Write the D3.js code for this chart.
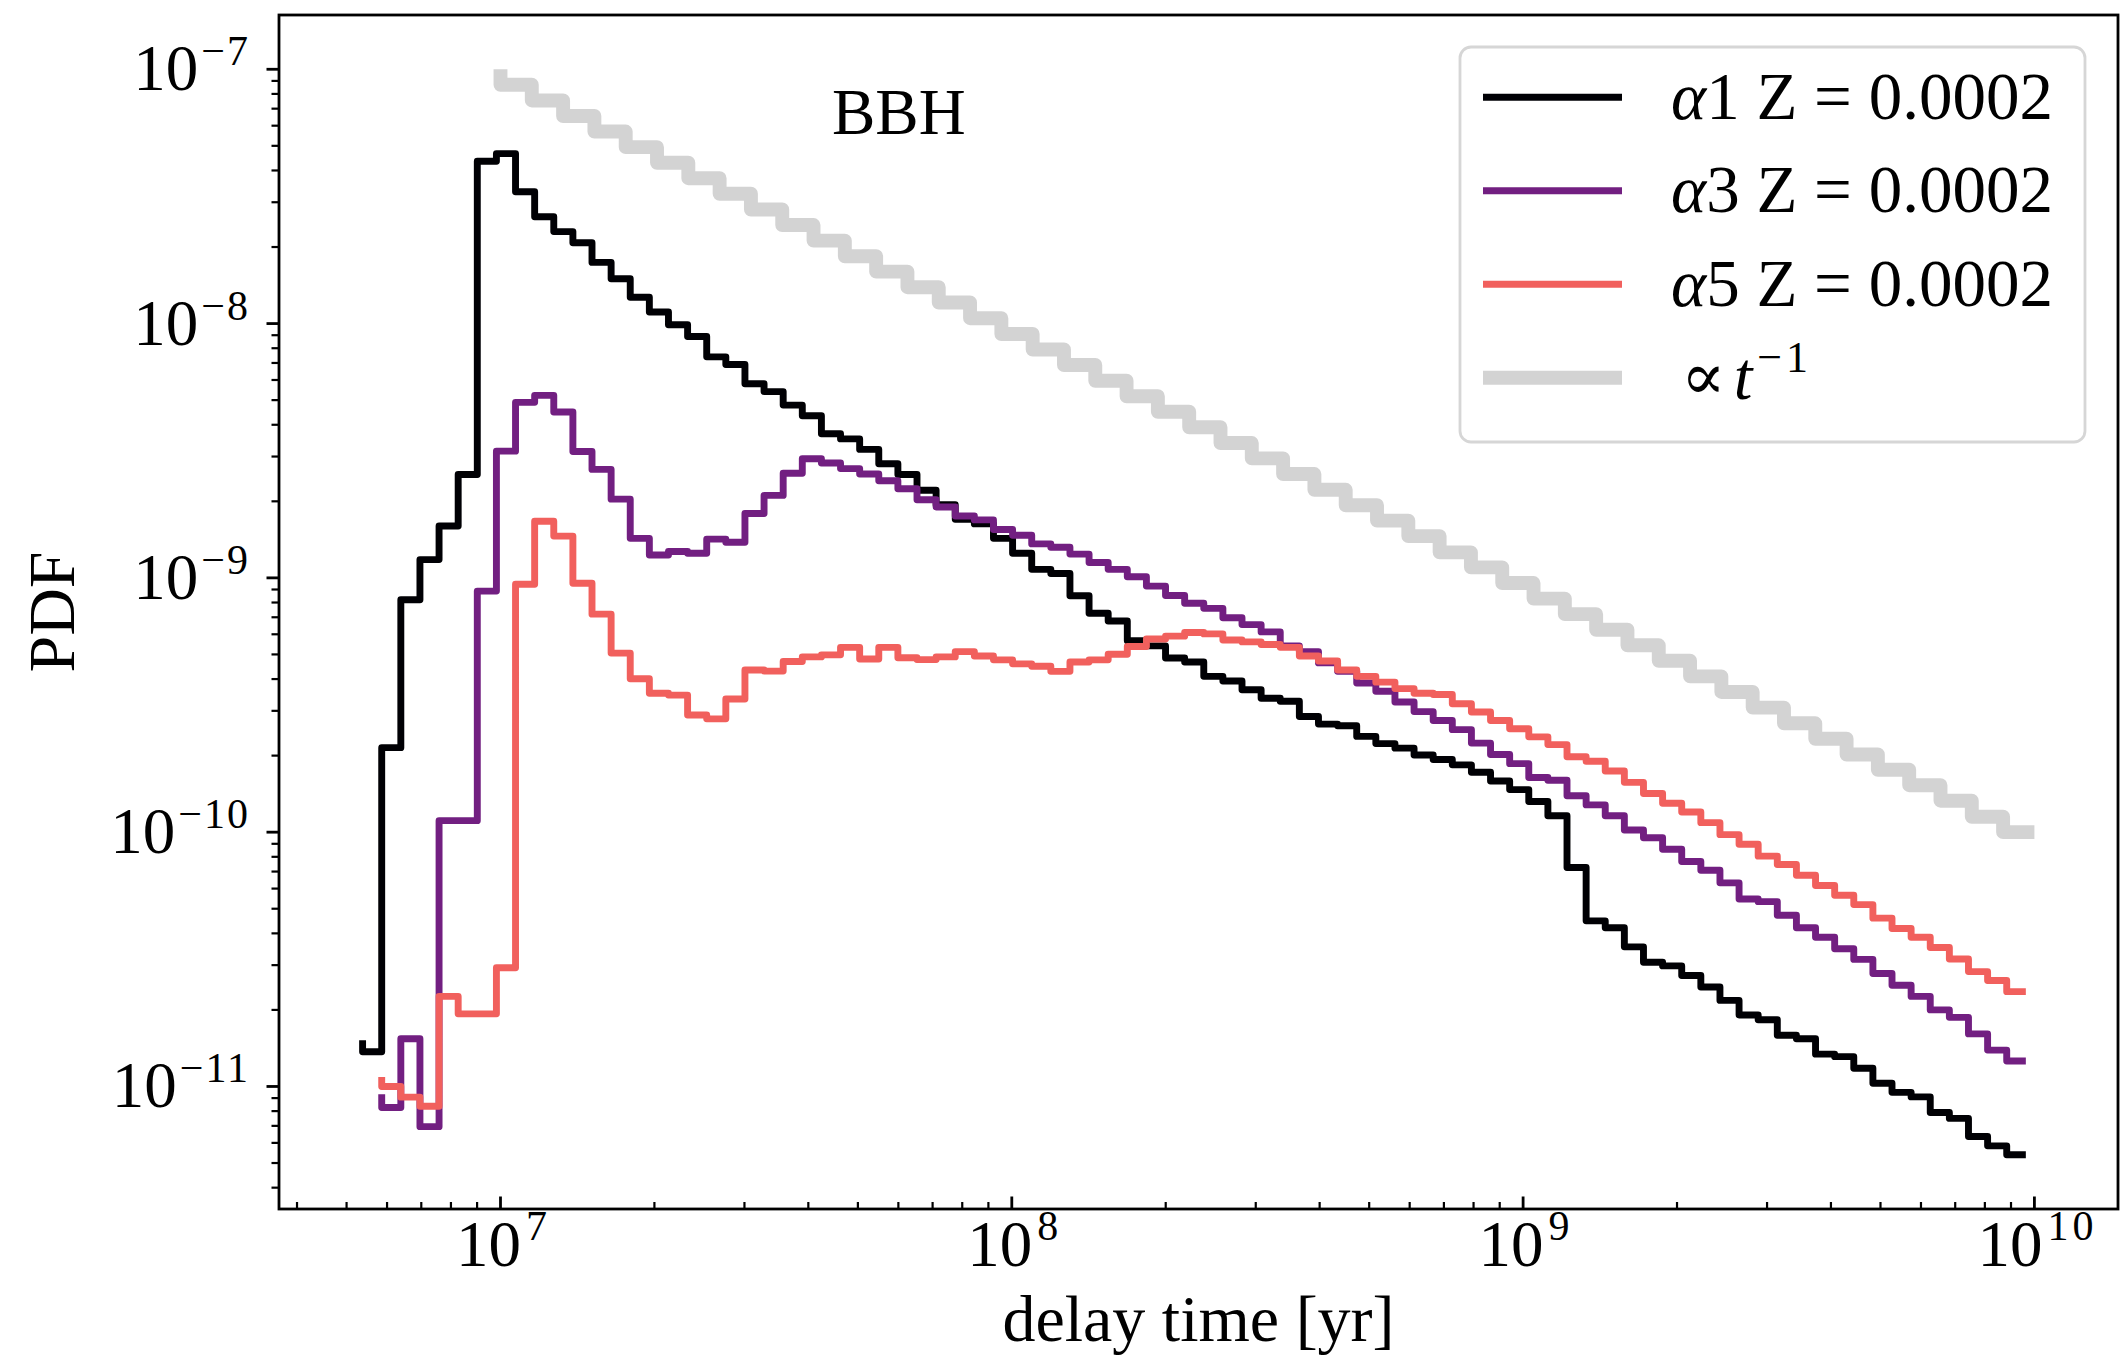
<!DOCTYPE html>
<html><head><meta charset="utf-8">
<script src="https://cdn.jsdelivr.net/npm/d3@7/dist/d3.min.js"></script>
<style>html,body{margin:0;padding:0;background:#fff}</style>
</head><body>
<svg id="chart" width="2126" height="1368"></svg>
<script>
// ---------------- data ----------------
// histogram bins (log-spaced delay times, yr)
const binStartDex = 6.7303;      // log10 of first bin time
const binWidthDex = 0.03739;     // bin width in dex
const alpha3StartBin = 1;
const alpha5StartBin = 1;

const alpha1Values = [1.52e-11, 1.37e-11, 2.15e-10, 8.2e-10, 1.18e-9, 1.6e-9, 2.55e-9, 4.35e-8, 4.66e-8, 3.3e-8,
 2.63e-8, 2.3e-8, 2.08e-8, 1.74e-8, 1.5e-8, 1.27e-8, 1.11e-8, 9.9e-9, 8.9e-9, 7.4e-9,
 6.9e-9, 5.8e-9, 5.4e-9, 4.78e-9, 4.34e-9, 3.69e-9, 3.52e-9, 3.2e-9, 2.81e-9, 2.55e-9,
 2.21e-9, 1.94e-9, 1.7e-9, 1.63e-9, 1.43e-9, 1.25e-9, 1.08e-9, 1.04e-9, 8.5e-10, 7.26e-10,
 6.77e-10, 5.66e-10, 5.4e-10, 4.84e-10, 4.67e-10, 4.1e-10, 3.93e-10, 3.63e-10, 3.36e-10, 3.27e-10,
 2.85e-10, 2.66e-10, 2.62e-10, 2.38e-10, 2.23e-10, 2.14e-10, 2.01e-10, 1.93e-10, 1.84e-10, 1.72e-10,
 1.59e-10, 1.47e-10, 1.32e-10, 1.16e-10, 7.26e-11, 4.48e-11, 4.21e-11, 3.54e-11, 3.08e-11, 2.98e-11,
 2.73e-11, 2.46e-11, 2.18e-11, 1.91e-11, 1.83e-11, 1.59e-11, 1.54e-11, 1.34e-11, 1.31e-11, 1.18e-11,
 1.03e-11, 9.48e-12, 9.1e-12, 7.9e-12, 7.49e-12, 6.36e-12, 5.84e-12, 5.39e-12];

const alpha3Values = [9.33e-12, 8.27e-12, 1.54e-11, 6.95e-12, 1.11e-10, 1.11e-10, 8.87e-10, 3.15e-9, 4.9e-9, 5.22e-9,
 4.49e-9, 3.14e-9, 2.67e-9, 2.04e-9, 1.43e-9, 1.23e-9, 1.27e-9, 1.25e-9, 1.42e-9, 1.38e-9,
 1.79e-9, 2.11e-9, 2.58e-9, 2.94e-9, 2.83e-9, 2.69e-9, 2.56e-9, 2.41e-9, 2.24e-9, 2.03e-9,
 1.9e-9, 1.75e-9, 1.69e-9, 1.55e-9, 1.47e-9, 1.36e-9, 1.32e-9, 1.24e-9, 1.15e-9, 1.08e-9,
 1.01e-9, 9.28e-10, 8.52e-10, 7.95e-10, 7.59e-10, 6.97e-10, 6.55e-10, 6.13e-10, 5.4e-10, 5.13e-10,
 4.63e-10, 4.29e-10, 3.86e-10, 3.58e-10, 3.25e-10, 2.98e-10, 2.75e-10, 2.53e-10, 2.24e-10, 2.02e-10,
 1.86e-10, 1.64e-10, 1.6e-10, 1.39e-10, 1.28e-10, 1.16e-10, 1.02e-10, 9.51e-11, 8.57e-11, 7.67e-11,
 7.08e-11, 6.32e-11, 5.46e-11, 5.33e-11, 4.71e-11, 4.21e-11, 3.86e-11, 3.48e-11, 3.16e-11, 2.78e-11,
 2.5e-11, 2.26e-11, 2.0e-11, 1.87e-11, 1.61e-11, 1.39e-11, 1.26e-11];

const alpha5Values = [1.09e-11, 1.0e-11, 9.08e-12, 8.36e-12, 2.26e-11, 1.93e-11, 1.93e-11, 2.93e-11, 9.44e-10, 1.67e-9,
 1.46e-9, 9.53e-10, 7.2e-10, 5.06e-10, 4.01e-10, 3.52e-10, 3.46e-10, 2.89e-10, 2.79e-10, 3.34e-10,
 4.34e-10, 4.3e-10, 4.69e-10, 4.89e-10, 4.98e-10, 5.33e-10, 4.8e-10, 5.33e-10, 4.85e-10, 4.77e-10,
 4.89e-10, 5.13e-10, 4.93e-10, 4.76e-10, 4.59e-10, 4.49e-10, 4.29e-10, 4.67e-10, 4.76e-10, 5.01e-10,
 5.37e-10, 5.75e-10, 5.9e-10, 6.1e-10, 6.02e-10, 5.7e-10, 5.6e-10, 5.47e-10, 5.33e-10, 4.93e-10,
 4.71e-10, 4.34e-10, 4.1e-10, 3.89e-10, 3.67e-10, 3.52e-10, 3.48e-10, 3.2e-10, 2.97e-10, 2.75e-10,
 2.55e-10, 2.37e-10, 2.21e-10, 1.98e-10, 1.9e-10, 1.74e-10, 1.57e-10, 1.42e-10, 1.3e-10, 1.2e-10,
 1.09e-10, 9.78e-11, 8.96e-11, 8.05e-11, 7.46e-11, 6.77e-11, 6.17e-11, 5.65e-11, 5.19e-11, 4.59e-11,
 4.18e-11, 3.86e-11, 3.52e-11, 3.17e-11, 2.83e-11, 2.61e-11, 2.36e-11];

// reference t^-1 line (its own bins)
const refStartDex = 7;
const refWidthDex = 3 / 49;
const refValues = [1e-7, 8.69e-8, 7.54e-8, 6.55e-8, 5.69e-8, 4.94e-8, 4.29e-8, 3.73e-8, 3.24e-8, 2.81e-8,
 2.44e-8, 2.12e-8, 1.84e-8, 1.6e-8, 1.39e-8, 1.21e-8, 1.05e-8, 9.1e-9, 7.91e-9, 6.87e-9,
 5.96e-9, 5.18e-9, 4.5e-9, 3.91e-9, 3.39e-9, 2.95e-9, 2.56e-9, 2.22e-9, 1.93e-9, 1.68e-9,
 1.46e-9, 1.26e-9, 1.1e-9, 9.54e-10, 8.29e-10, 7.2e-10, 6.25e-10, 5.43e-10, 4.72e-10, 4.1e-10,
 3.56e-10, 3.09e-10, 2.68e-10, 2.33e-10, 2.02e-10, 1.76e-10, 1.53e-10, 1.33e-10, 1.15e-10, 1e-10];

const seriesNames = ["α1", "α3", "α5"];
const metallicityLabel = "Z = 0.0002";
const xTickExponents = [7, 8, 9, 10];
const yTickExponents = [-11, -10, -9, -8, -7];
const panelTitle = "BBH";
const xAxisTitle = "delay time [yr]";
const yAxisTitle = "PDF";

// ---------------- layout ----------------
const W = 2126, H = 1368;
const plot = {left: 279, right: 2118, top: 15, bottom: 1209};
const FONT = "'Liberation Serif','Times New Roman',serif";
const colors = ["#000004", "#721f81", "#f1605d", "#d3d3d3"];
const widths = [6.9, 6.9, 6.9, 13.9];

function mkSeries(startDex, widthDex, startBin, vals) {
  return vals.map((v, i) => ({t: Math.pow(10, startDex + (startBin + i) * widthDex), v}));
}
const series = [
  mkSeries(binStartDex, binWidthDex, 0, alpha1Values),
  mkSeries(binStartDex, binWidthDex, alpha3StartBin, alpha3Values),
  mkSeries(binStartDex, binWidthDex, alpha5StartBin, alpha5Values),
  mkSeries(refStartDex, refWidthDex, 0, refValues)
];

// matplotlib-like 5% margins in log space
const allPts = series.flat();
const lx = d3.extent(allPts, d => Math.log10(d.t));
const ly = d3.extent(allPts, d => Math.log10(d.v));
const mx = (lx[1] - lx[0]) * 0.05, my = (ly[1] - ly[0]) * 0.05;
const x = d3.scaleLog().domain([Math.pow(10, lx[0] - mx), Math.pow(10, lx[1] + mx)]).range([plot.left, plot.right]);
const y = d3.scaleLog().domain([Math.pow(10, ly[0] - my), Math.pow(10, ly[1] + my)]).range([plot.bottom, plot.top]);

const svg = d3.select("#chart");
svg.append("rect").attr("width", W).attr("height", H).attr("fill", "#fff");

// ---------------- lines ----------------
const line = d3.line().x(d => x(d.t)).y(d => y(d.v)).curve(d3.curveStepBefore);
const gLines = svg.append("g");
series.forEach((s, i) => {
  gLines.append("path").datum(s).attr("d", line)
    .attr("fill", "none").attr("stroke", colors[i]).attr("stroke-width", widths[i])
    .attr("stroke-linejoin", "round").attr("stroke-linecap", "butt");
});

// ---------------- axes ----------------
const gAx = svg.append("g");
const xd = x.domain(), yd = y.domain();
function minorTicks(dom) {
  const out = [];
  const e0 = Math.floor(Math.log10(dom[0])), e1 = Math.ceil(Math.log10(dom[1]));
  for (let e = e0; e <= e1; e++) for (let m = 2; m <= 9; m++) {
    const v = m * Math.pow(10, e);
    if (v >= dom[0] && v <= dom[1]) out.push(v);
  }
  return out;
}
const SUP = 42, SUPLS = 4;
// x ticks (pointing inward)
minorTicks(xd).forEach(v => gAx.append("line").attr("x1", x(v)).attr("x2", x(v))
  .attr("y1", plot.bottom).attr("y2", plot.bottom - 7).attr("stroke", "#000").attr("stroke-width", 2.2));
xTickExponents.forEach(e => {
  const v = Math.pow(10, e), px = x(v);
  gAx.append("line").attr("x1", px).attr("x2", px).attr("y1", plot.bottom).attr("y2", plot.bottom - 12.5)
    .attr("stroke", "#000").attr("stroke-width", 2.8);
  const t = gAx.append("text").attr("x", px + 3).attr("y", plot.bottom + 57).attr("text-anchor", "middle")
    .attr("font-family", FONT).attr("font-size", 65);
  t.append("tspan").text("10");
  t.append("tspan").attr("font-size", SUP).attr("letter-spacing", SUPLS).attr("dx", 5).attr("dy", -26).text(String(e));
});
// y ticks (pointing outward)
minorTicks(yd).forEach(v => gAx.append("line").attr("y1", y(v)).attr("y2", y(v))
  .attr("x1", plot.left).attr("x2", plot.left - 7.5).attr("stroke", "#000").attr("stroke-width", 2.2));
yTickExponents.forEach(e => {
  const v = Math.pow(10, e), py = y(v);
  gAx.append("line").attr("y1", py).attr("y2", py).attr("x1", plot.left).attr("x2", plot.left - 12.5)
    .attr("stroke", "#000").attr("stroke-width", 2.8);
  const t = gAx.append("text").attr("x", 250).attr("y", py + 21).attr("text-anchor", "end")
    .attr("font-family", FONT).attr("font-size", 65);
  t.append("tspan").text("10");
  t.append("tspan").attr("font-size", SUP).attr("letter-spacing", 2).attr("dy", -25).attr("dx", 3).text("\u2212" + (-e));
});
// spines
gAx.append("rect").attr("x", plot.left).attr("y", plot.top)
  .attr("width", plot.right - plot.left).attr("height", plot.bottom - plot.top)
  .attr("fill", "none").attr("stroke", "#000").attr("stroke-width", 2.8);

// axis titles
svg.append("text").attr("x", (plot.left + plot.right) / 2).attr("y", 1341).attr("text-anchor", "middle")
  .attr("font-family", FONT).attr("font-size", 66).text(xAxisTitle);
svg.append("text").attr("transform", `translate(74,${(plot.top + plot.bottom) / 2}) rotate(-90)`)
  .attr("text-anchor", "middle").attr("font-family", FONT).attr("font-size", 66).text(yAxisTitle);

// panel title
svg.append("text").attr("x", 832).attr("y", 134).attr("font-family", FONT).attr("font-size", 65).text(panelTitle);

// ---------------- legend ----------------
const lg = svg.append("g");
lg.append("rect").attr("x", 1460).attr("y", 47).attr("width", 625).attr("height", 395)
  .attr("rx", 11).attr("ry", 11).attr("fill", "#fff").attr("fill-opacity", 0.8)
  .attr("stroke", "#d6d6d6").attr("stroke-width", 2.8);
const rowY0 = 97.3, rowStep = 93.5;
for (let i = 0; i < 4; i++) {
  const yy = rowY0 + i * rowStep;
  lg.append("line").attr("x1", 1483).attr("x2", 1622).attr("y1", yy).attr("y2", yy)
    .attr("stroke", colors[i]).attr("stroke-width", widths[i]);
  const t = lg.append("text").attr("x", i < 3 ? 1671 : 1681).attr("y", yy + 21.5)
    .attr("font-family", FONT).attr("font-size", 67);
  if (i < 3) {
    t.append("tspan").attr("font-style", "italic").text(seriesNames[i].slice(0, 1));
    t.append("tspan").text(seriesNames[i].slice(1) + " " + metallicityLabel);
  } else {
    t.append("tspan").attr("font-family", "'DejaVu Serif',serif").attr("font-size", 66).text("\u221D");
    t.append("tspan").attr("dx", 8).attr("font-style", "italic").text("t");
    t.append("tspan").attr("font-size", SUP + 2).attr("letter-spacing", SUPLS).attr("dy", -27).attr("dx", 5).text("\u22121");
  }
}
</script>
</body></html>
